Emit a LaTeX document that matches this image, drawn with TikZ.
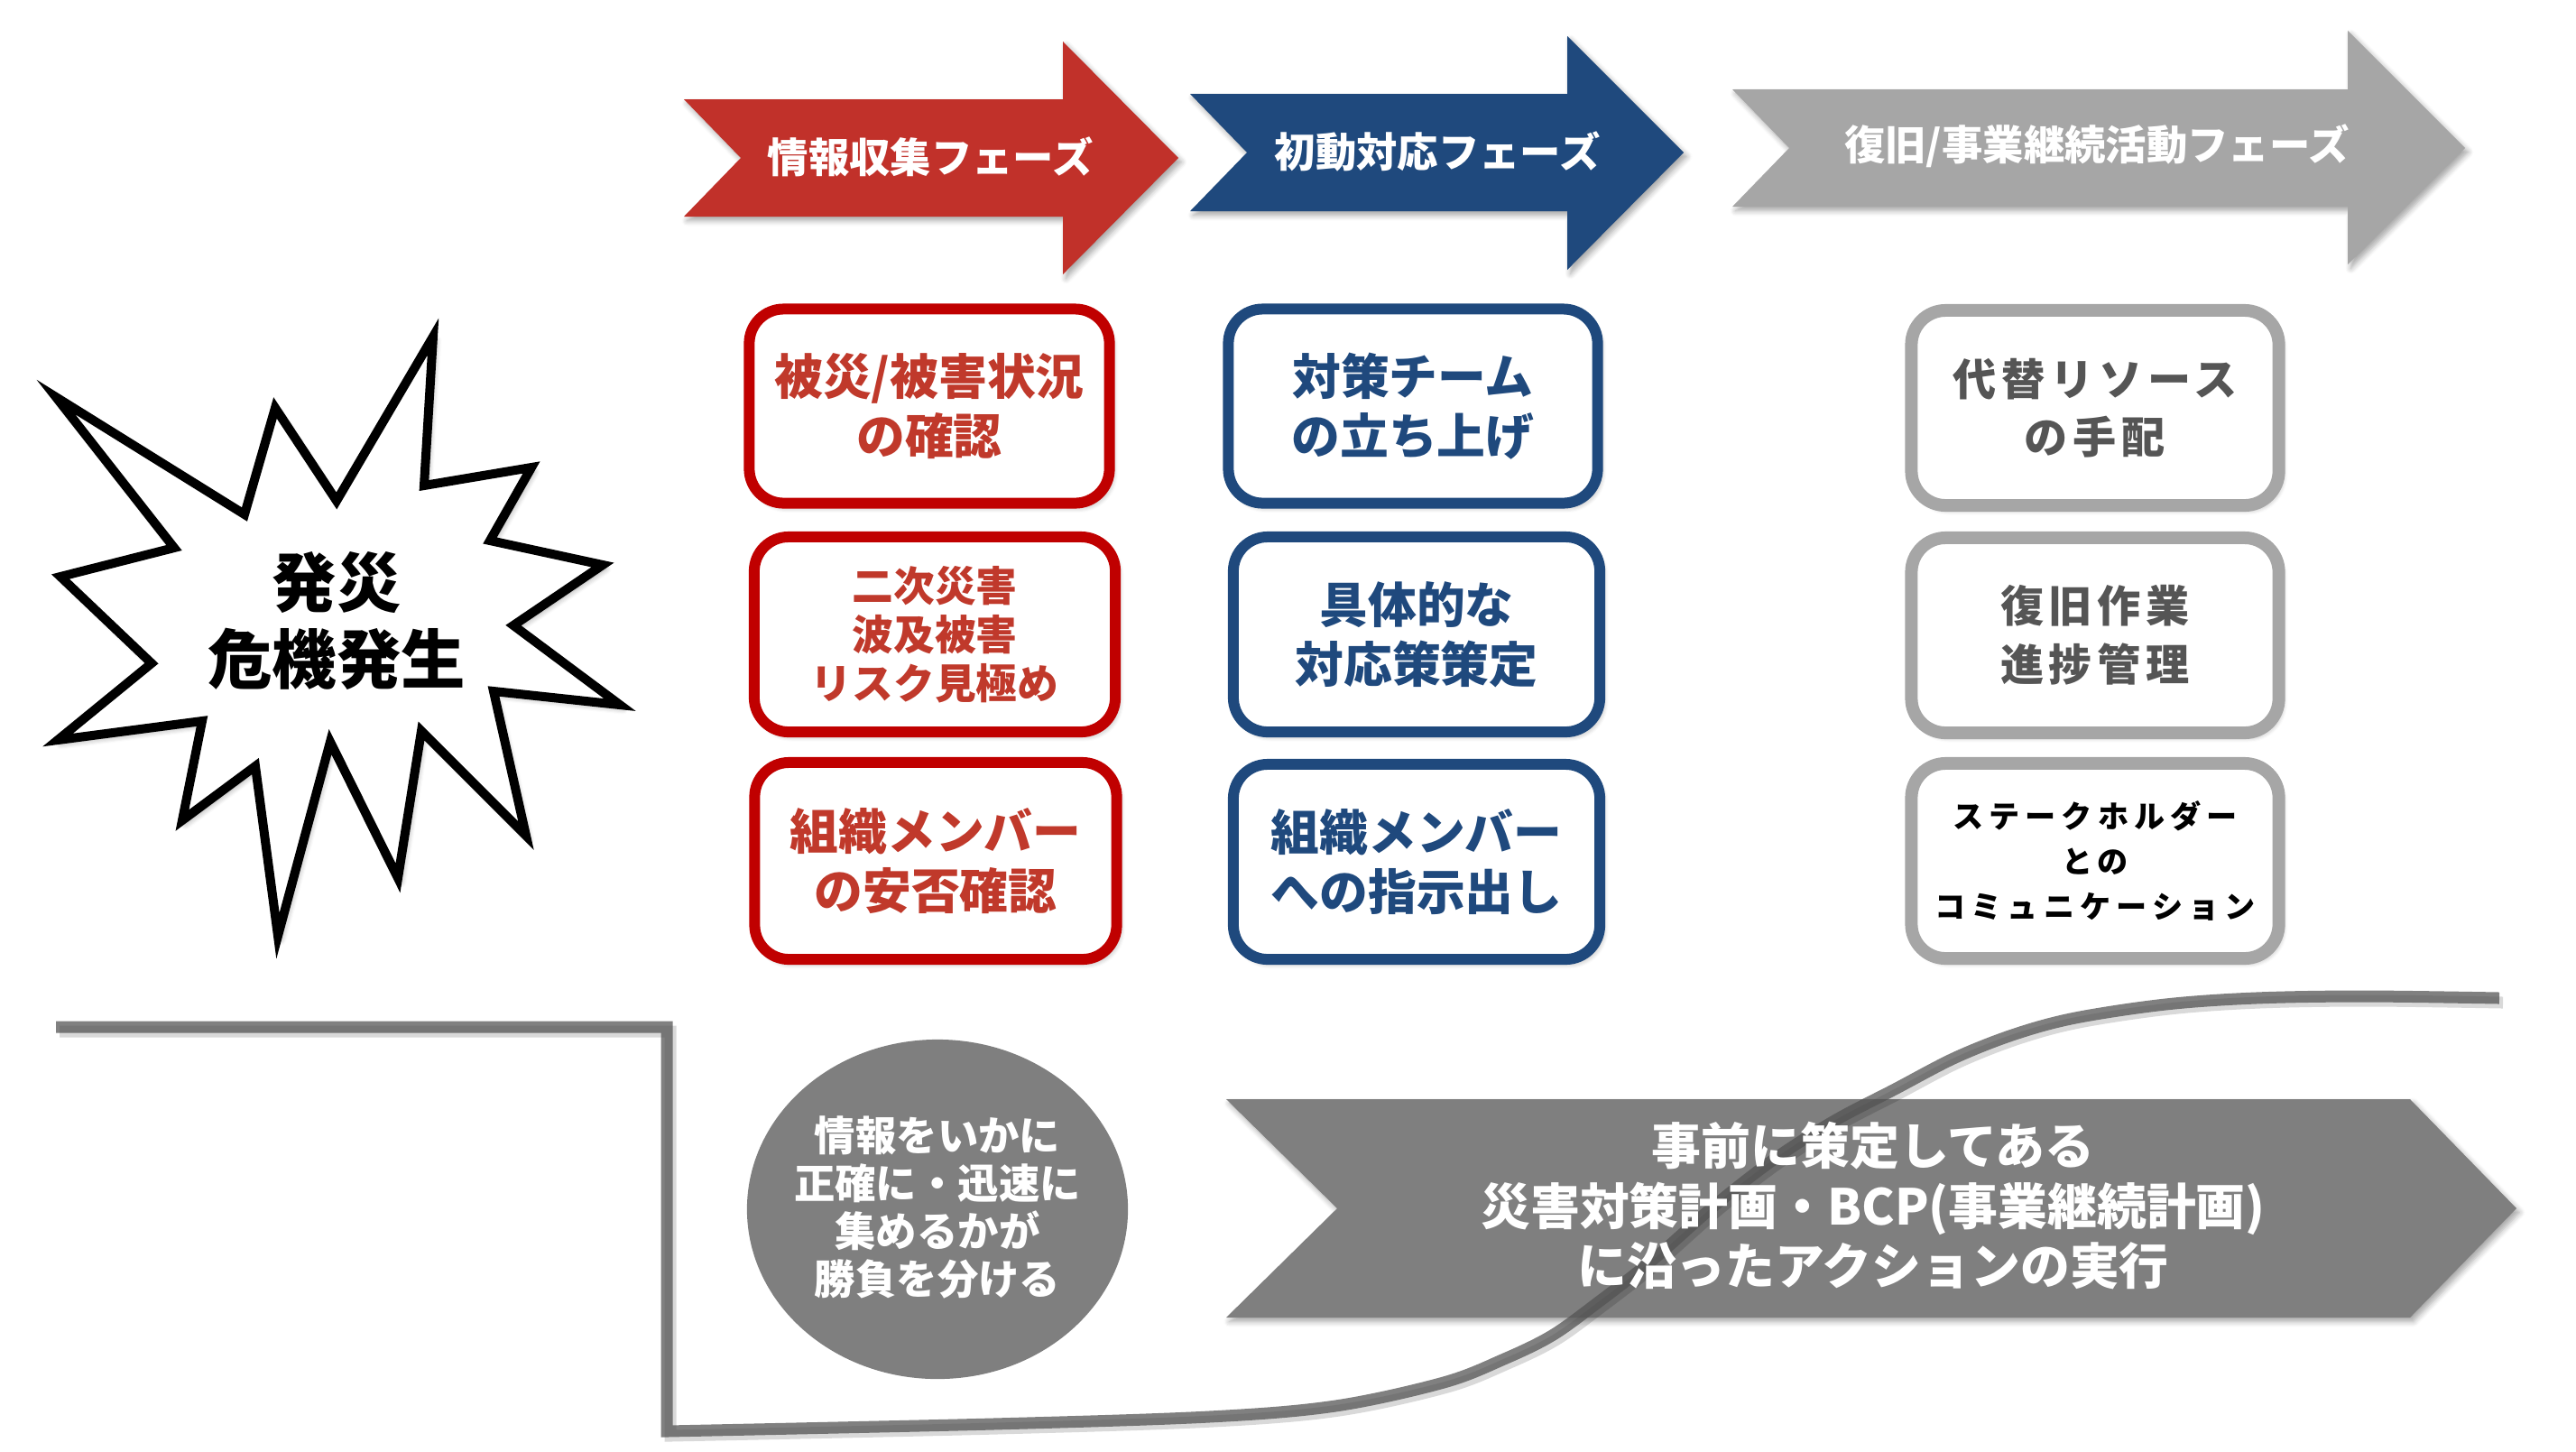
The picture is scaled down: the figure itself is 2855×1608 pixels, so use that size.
\documentclass[tikz,border=0pt]{standalone}
\usepackage{fontspec}
\setmainfont{Noto Sans CJK JP}
\newfontfamily\jpwide{Noto Sans CJK JP}[LetterSpace=12]
\newfontfamily\jpwider{Noto Sans CJK JP}[LetterSpace=18]
\usetikzlibrary{shadows.blur}
\definecolor{cRed}{HTML}{C1312A}
\definecolor{cRedLine}{HTML}{C00000}
\definecolor{cRedText}{HTML}{C0392B}
\definecolor{cBlue}{HTML}{1F497D}
\definecolor{cGray}{HTML}{A6A6A6}
\definecolor{cGrayText}{HTML}{555555}
\definecolor{cDark}{HTML}{7F7F7F}
\definecolor{cCurve}{HTML}{535353}
\newcommand{\fsz}[2]{\fontsize{#1pt}{#2pt}\selectfont}
\begin{document}
\begin{tikzpicture}[x=0.01cm,y=-0.01cm,
 shd/.style={blur shadow={shadow xshift=0.035cm,shadow yshift=-0.045cm,shadow blur radius=0.06cm,shadow blur steps=6,shadow opacity=35}},
 phasetxt/.style={text=white,font=\fsz{12.9}{15}\bfseries,inner sep=0pt},
 taskbox/.style={shd,draw,fill=white,rounded corners=0.38cm,line width=0.12cm,minimum width=4cm,minimum height=2.16cm,inner sep=0pt,align=center},
 redbox/.style={taskbox,draw=cRedLine,text=cRedText},
 bluebox/.style={taskbox,draw=cBlue,text=cBlue},
 graybox/.style={taskbox,draw=cGray,line width=0.14cm,text=cGrayText,minimum width=4.07cm},
 bigtxt/.style={font=\fsz{15.3}{18.8}\bfseries},
 timeline/.style={line width=0.13cm},
]
\useasboundingbox (0,0) rectangle (2855,1608);

% phase arrows
\fill[cRed,shd] (758,110) -- (1178,110) -- (1178,46) -- (1306,175) -- (1178,304) -- (1178,240) -- (758,240) -- (821,175) -- cycle;
\node[phasetxt] (ph1) at (1031,174) {情報収集フェーズ};
\fill[cBlue,shd] (1319,104) -- (1737,104) -- (1737,40) -- (1866,169) -- (1737,299) -- (1737,234) -- (1319,234) -- (1382,169) -- cycle;
\node[phasetxt] (ph2) at (1593,168) {初動対応フェーズ};
\fill[cGray,shd] (1920,99) -- (2602,99) -- (2602,34) -- (2732,164) -- (2602,293) -- (2602,229) -- (1920,229) -- (1983,164) -- cycle;
\node[phasetxt] (ph3) at (2324,162) {復旧/事業継続活動フェーズ};

% starburst
\draw[line width=0.1cm,fill=white,shd,line join=miter,miter limit=20]
 (62,440) -- (193,607) -- (67,639) -- (168,735) -- (64,820) -- (224,799) -- (202,909) -- (283,849)
 -- (308,1037) -- (366,822) -- (441,973) -- (467,810) -- (583,926) -- (547,766) -- (687,781)
 -- (569,693) -- (668,626) -- (543,599) -- (589,518) -- (470,538) -- (480,373) -- (373,555)
 -- (305,452) -- (271,570) -- cycle;
\node[font=\fsz{20.3}{24.4}\bfseries,align=center] (crisis) at (373,688) {発災\\危機発生};

% red boxes
\node[redbox,bigtxt,minimum width=3.99cm,minimum height=2.15cm] (r1) at (1030,450) {被災/被害状況\\の確認};
\node[redbox,font=\fsz{13}{15.4}\bfseries] (r2) at (1036,703) {二次災害\\波及被害\\リスク見極め};
\node[redbox,bigtxt,minimum width=4.01cm,minimum height=2.18cm] (r3) at (1037,954) {組織メンバー\\の安否確認};

% blue boxes
\node[bluebox,bigtxt,minimum width=4.09cm,minimum height=2.15cm] (b1) at (1566,450) {対策チーム\\の立ち上げ};
\node[bluebox,bigtxt,minimum width=4.06cm] (b2) at (1570,703) {具体的な\\対応策策定};
\node[bluebox,bigtxt,minimum width=4.06cm] (b3) at (1570,955) {組織メンバー\\への指示出し};

% gray boxes
\node[graybox,font=\jpwide\fsz{13.7}{18.2}\bfseries] (g1) at (2322,452) {代替リソース\\の手配};
\node[graybox,font=\jpwide\fsz{13.7}{18.5}\bfseries] (g2) at (2322,704) {復旧作業\\進捗管理};
\node[graybox,text=black,font=\jpwider\fsz{9.7}{14.2}\bfseries] (g3) at (2322,954) {ステークホルダー\\との\\コミュニケーション};

% key message circle
\fill[cDark] (1039,1340) ellipse [x radius=2.11cm, y radius=1.88cm];
\node[text=white,align=center,inner sep=0pt,font=\fsz{12.9}{15.1}\bfseries] (key) at (1039,1338) {情報をいかに\\正確に・迅速に\\集めるかが\\勝負を分ける};

% chevron
\fill[cDark,shd] (1359,1218) -- (2671,1218) -- (2789,1339) -- (2671,1460) -- (1359,1460) -- (1482,1339) -- cycle;

% timeline line
\draw[timeline,black,opacity=0.15,shift={(4,5)}] (62,1138) -- (739,1138) -- (739,1586) -- plot[smooth,tension=0.55] coordinates {(739,1586) (1100,1578) (1340,1570) (1480,1558) (1600,1532) (1667,1506) (1720,1480) (1770,1444) (1833,1395) (1900,1336) (1967,1284) (2033,1242) (2100,1207) (2167,1172) (2233,1146) (2300,1128) (2400,1113) (2500,1106) (2620,1104) (2770,1106)};
\draw[timeline,cCurve,opacity=0.74] (62,1138) -- (739,1138) -- (739,1586) -- plot[smooth,tension=0.55] coordinates {(739,1586) (1100,1578) (1340,1570) (1480,1558) (1600,1532) (1667,1506) (1720,1480) (1770,1444) (1833,1395) (1900,1336) (1967,1284) (2033,1242) (2100,1207) (2167,1172) (2233,1146) (2300,1128) (2400,1113) (2500,1106) (2620,1104) (2770,1106)};

\node[text=white,align=center,font=\fsz{15.6}{18.8}\bfseries] (plan) at (2076,1336) {事前に策定してある\\災害対策計画・BCP(事業継続計画)\\に沿ったアクションの実行};
\end{tikzpicture}
\end{document}
